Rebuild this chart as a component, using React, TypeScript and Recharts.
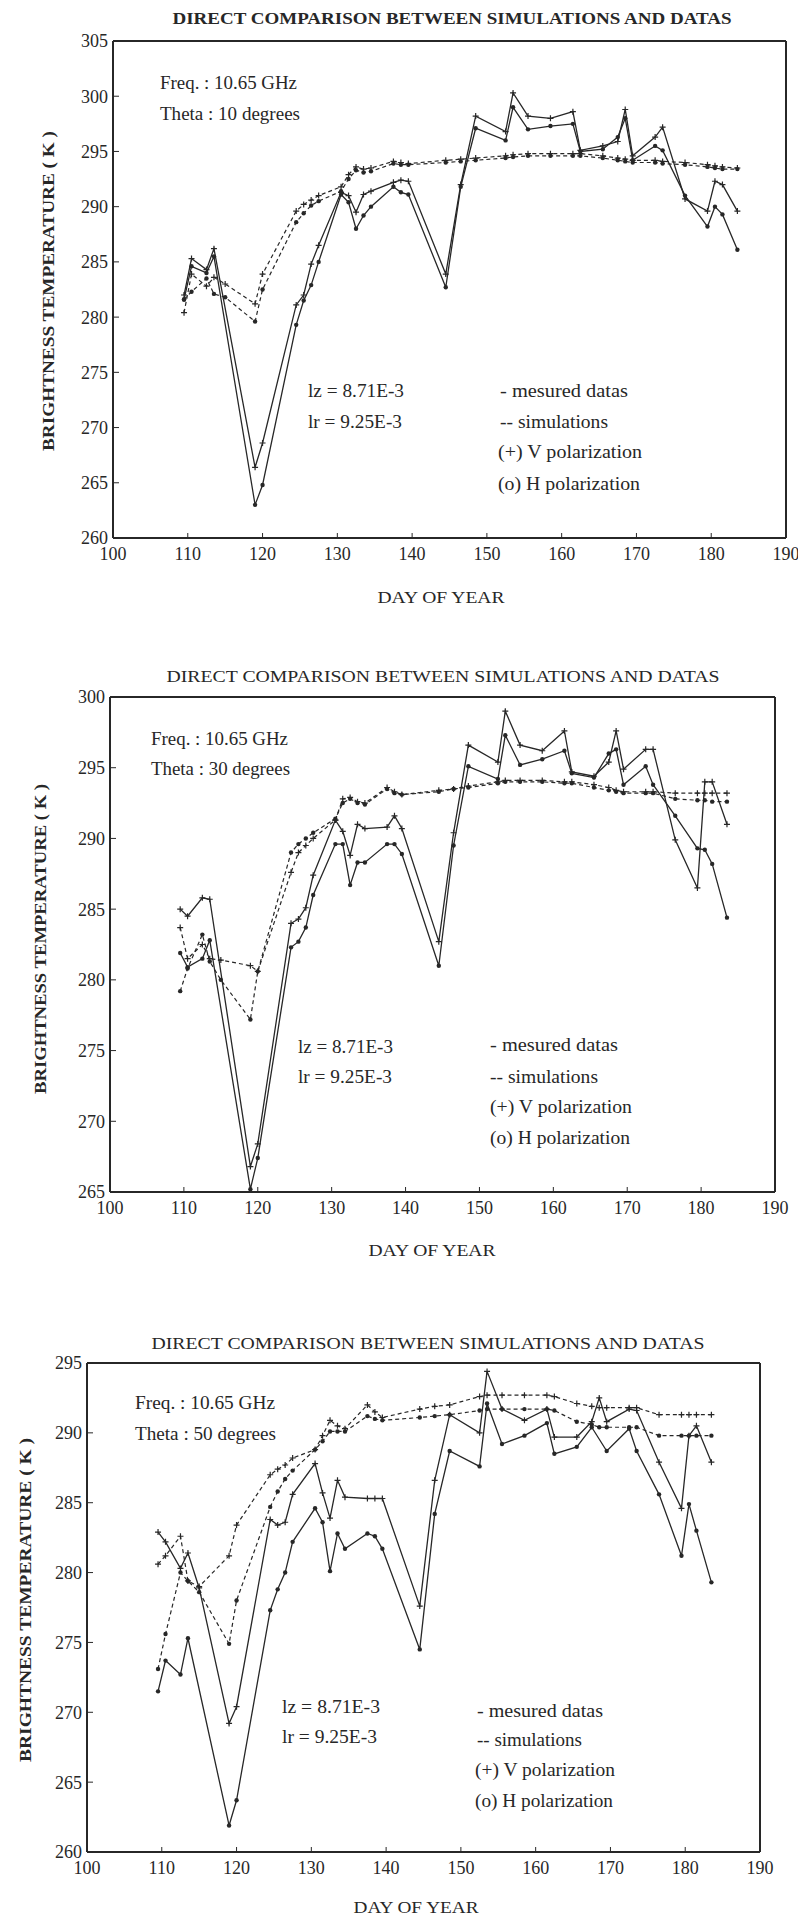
import React from "react";
import { LineChart, Line, XAxis, YAxis } from "recharts";

// measurement days (shared by the three panels)
const DAYS = [109.5, 110.5, 112.5, 113.5, 115, 119, 120, 124.5, 125.5, 126.5, 127.5, 130.5, 131.5, 132.5, 133.5, 134.5, 137.5, 138.5, 139.5, 144.5, 146.5, 148.5, 152.5, 153.5, 155.5, 158.5, 161.5, 162.5, 165.5, 167.5, 168.5, 169.5, 172.5, 173.5, 176.5, 179.5, 180.5, 181.5, 183.5];
const X_TICKS = [100, 110, 120, 130, 140, 150, 160, 170, 180, 190];

// theta = 10 degrees
const V10_MEAS = [282.0, 285.3, 284.3, 286.2, null, 266.4, 268.6, 281.1, 282.0, 284.8, 286.5, 291.3, 291.0, 289.5, 291.1, 291.4, 292.2, 292.4, 292.3, 283.9, 292.0, 298.2, 296.8, 300.3, 298.2, 298.0, 298.6, 295.1, 295.5, 295.9, 298.8, 294.6, 296.3, 297.2, 290.7, 289.6, 292.3, 292.0, 289.6];
const H10_MEAS = [281.6, 284.6, 284.0, 285.5, null, 263.0, 264.8, 279.3, 281.5, 282.9, 285.0, 291.1, 290.4, 288.0, 289.2, 290.0, 291.8, 291.3, 291.1, 282.7, 291.8, 297.1, 296.0, 299.0, 297.0, 297.3, 297.5, 295.0, 295.2, 296.3, 298.0, 294.2, 295.5, 295.1, 291.0, 288.2, 290.0, 289.3, 286.1];
const V10_SIM = [280.4, 283.9, 282.8, 283.6, 283.0, 281.2, 283.9, 289.6, 290.2, 290.6, 291.0, 291.8, 292.9, 293.6, 293.4, 293.5, 294.1, 294.0, 293.9, 294.2, 294.3, 294.4, 294.6, 294.7, 294.8, 294.8, 294.8, 294.8, 294.6, 294.4, 294.3, 294.2, 294.2, 294.1, 294.0, 293.8, 293.7, 293.6, 293.5];
const H10_SIM = [281.6, 282.3, 283.5, 282.1, 281.8, 279.6, 282.5, 288.6, 289.4, 290.1, 290.5, 291.4, 292.5, 293.3, 293.1, 293.2, 293.9, 293.8, 293.8, 294.0, 294.1, 294.2, 294.4, 294.5, 294.6, 294.6, 294.6, 294.6, 294.4, 294.2, 294.1, 294.0, 294.0, 293.9, 293.8, 293.6, 293.5, 293.4, 293.4];
const Y_TICKS_10 = [260, 265, 270, 275, 280, 285, 290, 295, 300, 305];

// theta = 30 degrees
const V30_MEAS = [285.0, 284.5, 285.8, 285.7, null, 266.8, 268.4, 284.0, 284.3, 285.1, 287.4, 291.3, 290.5, 288.8, 291.0, 290.7, 290.8, 291.6, 290.7, 282.7, 290.4, 296.6, 295.4, 299.0, 296.6, 296.2, 297.6, 294.7, 294.4, 295.4, 297.6, 294.9, 296.3, 296.3, 289.9, 286.5, 294.0, 294.0, 291.0];
const H30_MEAS = [281.9, 280.9, 281.5, 282.8, null, 265.2, 267.4, 282.3, 282.7, 283.7, 286.0, 289.6, 289.6, 286.7, 288.3, 288.3, 289.6, 289.6, 288.9, 281.0, 289.5, 295.1, 294.2, 297.3, 295.2, 295.6, 296.2, 294.6, 294.3, 296.0, 296.3, 293.8, 295.1, 293.8, 291.6, 289.3, 289.2, 288.2, 284.4];
const V30_SIM = [283.7, 281.5, 282.5, 281.5, 281.4, 281.0, 280.6, 287.6, 289.0, 289.5, 290.0, 291.3, 292.8, 292.9, 292.6, 292.5, 293.6, 293.3, 293.1, 293.4, 293.5, 293.7, 294.0, 294.1, 294.1, 294.1, 294.0, 294.0, 293.8, 293.6, 293.4, 293.3, 293.3, 293.3, 293.2, 293.2, 293.2, 293.2, 293.2];
const H30_SIM = [279.2, 280.8, 283.2, 281.3, 280.0, 277.2, 280.6, 289.0, 289.6, 290.0, 290.4, 291.4, 292.5, 292.8, 292.5, 292.4, 293.5, 293.2, 293.1, 293.3, 293.5, 293.6, 293.9, 294.0, 294.0, 294.0, 293.9, 293.9, 293.6, 293.4, 293.3, 293.2, 293.2, 293.2, 292.8, 292.7, 292.7, 292.6, 292.6];
const Y_TICKS_30 = [265, 270, 275, 280, 285, 290, 295, 300];

// theta = 50 degrees
const V50_MEAS = [282.9, 282.2, 280.3, 281.4, 278.9, 269.2, 270.4, 283.8, 283.4, 283.6, 285.6, 287.8, 285.7, 283.9, 286.6, 285.4, 285.3, 285.3, 285.3, 277.6, 286.6, 291.3, 290.0, 294.4, 291.7, 290.9, 291.7, 289.7, 289.7, 290.8, 292.5, 290.8, 291.7, 291.6, 287.9, 284.6, 289.8, 290.5, 287.9];
const H50_MEAS = [271.5, 273.7, 272.7, 275.3, null, 261.9, 263.7, 277.3, 278.8, 280.0, 282.2, 284.6, 283.6, 280.1, 282.8, 281.7, 282.8, 282.6, 281.7, 274.5, 284.2, 288.7, 287.6, 292.1, 289.2, 289.8, 290.7, 288.5, 289.0, 290.4, null, 288.7, 290.3, 288.7, 285.6, 281.2, 284.9, 283.0, 279.3];
const V50_SIM = [280.6, 281.2, 282.6, 279.4, 279.0, 281.2, 283.4, 287.0, 287.4, 287.7, 288.2, 288.8, 289.8, 290.9, 290.5, 290.3, 292.0, 291.5, 291.1, 291.7, 291.9, 292.0, 292.6, 292.7, 292.7, 292.7, 292.7, 292.6, 292.1, 291.9, 291.8, 291.8, 291.8, 291.8, 291.3, 291.3, 291.3, 291.3, 291.3];
const H50_SIM = [273.1, 275.6, 280.0, 279.4, 278.6, 274.9, 278.0, 284.7, 285.8, 286.7, 287.3, 288.8, 289.4, 290.1, 290.1, 290.1, 291.2, 291.0, 290.9, 291.1, 291.2, 291.3, 291.6, 291.7, 291.7, 291.7, 291.7, 291.6, 290.8, 290.6, 290.4, 290.4, 290.4, 290.4, 289.8, 289.8, 289.8, 289.8, 289.8];
const Y_TICKS_50 = [260, 265, 270, 275, 280, 285, 290, 295];

const INK = "#272727";
const FONT = "'Liberation Serif', 'Times New Roman', serif";

const rows = (vm: any[], hm: any[], vs: any[], hs: any[]) =>
  DAYS.map((day, i) => ({ day, vm: vm[i], hm: hm[i], vs: vs[i], hs: hs[i] }));

const PlusDot = (p: any) => {
  const k = `${p.dataKey}-p-${p.index}`;
  if (p.cx == null || p.cy == null || Number.isNaN(p.cy) || p.value == null) return <g key={k} />;
  const { cx, cy } = p;
  return <path key={k} d={`M${cx - 3},${cy}H${cx + 3}M${cx},${cy - 3}V${cy + 3}`} stroke={INK} strokeWidth={1.2} fill="none" />;
};

const RingDot = (p: any) => {
  const k = `${p.dataKey}-o-${p.index}`;
  if (p.cx == null || p.cy == null || Number.isNaN(p.cy) || p.value == null) return <g key={k} />;
  return <circle key={k} cx={p.cx} cy={p.cy} r={2.2} fill={INK} stroke="none" />;
};

type PanelProps = {
  top: number;
  height: number;
  margin: { top: number; right: number; bottom: number; left: number };
  domain: [number, number];
  yTicks: number[];
  data: any[];
};

function Panel({ top, height, margin, domain, yTicks, data }: PanelProps) {
  const tickText = { fill: INK, fontSize: 18, fontFamily: FONT };
  const frame = { stroke: INK, strokeWidth: 2 };
  return (
    <div style={{ position: "absolute", left: 0, top }}>
      <LineChart width={798} height={height} data={data} margin={margin}>
        <XAxis dataKey="day" type="number" domain={[100, 190]} ticks={X_TICKS} interval={0} allowDataOverflow
          height={1} tick={tickText} tickSize={-5} tickMargin={14} tickLine={{ stroke: INK }} axisLine={frame} />
        <XAxis xAxisId="top" orientation="top" dataKey="day" type="number" domain={[100, 190]} ticks={X_TICKS} interval={0}
          allowDataOverflow height={1} tick={false} tickSize={-5} tickLine={{ stroke: INK }} axisLine={frame} />
        <YAxis type="number" domain={domain} ticks={yTicks} interval={0} allowDataOverflow width={1}
          tick={tickText} tickSize={-6} tickMargin={11} tickLine={{ stroke: INK }} axisLine={frame} />
        <YAxis yAxisId="right" orientation="right" type="number" domain={domain} ticks={yTicks} interval={0} allowDataOverflow
          width={1} tick={false} tickSize={-6} tickLine={{ stroke: INK }} axisLine={frame} />
        <Line dataKey="vs" stroke={INK} strokeWidth={1.2} strokeDasharray="4 3" dot={PlusDot} activeDot={false} connectNulls isAnimationActive={false} />
        <Line dataKey="hs" stroke={INK} strokeWidth={1.2} strokeDasharray="4 3" dot={RingDot} activeDot={false} connectNulls isAnimationActive={false} />
        <Line dataKey="vm" stroke={INK} strokeWidth={1.3} dot={PlusDot} activeDot={false} connectNulls isAnimationActive={false} />
        <Line dataKey="hm" stroke={INK} strokeWidth={1.3} dot={RingDot} activeDot={false} connectNulls isAnimationActive={false} />
      </LineChart>
    </div>
  );
}

type Label = { t: string; x: number; y: number; w: number; size?: number; bold?: boolean; mid?: boolean; rot?: boolean };

const TITLE = "DIRECT COMPARISON BETWEEN SIMULATIONS AND DATAS";
const YLABEL = "BRIGHTNESS TEMPERATURE ( K )";

const labels: Label[] = [
  // panel 1
  { t: TITLE, x: 452, y: 24, w: 559, size: 17, bold: true, mid: true },
  { t: "Freq. : 10.65 GHz", x: 160, y: 89, w: 137 },
  { t: "Theta : 10 degrees", x: 160, y: 120, w: 140 },
  { t: "lz = 8.71E-3", x: 308, y: 397, w: 96 },
  { t: "lr = 9.25E-3", x: 308, y: 428, w: 94 },
  { t: "-  mesured datas", x: 500, y: 397, w: 128 },
  { t: "-- simulations", x: 500, y: 428, w: 108 },
  { t: "(+) V polarization", x: 498, y: 458, w: 144 },
  { t: "(o) H polarization", x: 498, y: 490, w: 142 },
  { t: YLABEL, x: 48, y: 291, w: 320, size: 16, bold: true, mid: true, rot: true },
  { t: "DAY OF YEAR", x: 441, y: 603, w: 127, size: 16, mid: true },
  // panel 2
  { t: TITLE, x: 443, y: 682, w: 553, size: 17, mid: true },
  { t: "Freq. : 10.65 GHz", x: 151, y: 745, w: 137 },
  { t: "Theta : 30 degrees", x: 151, y: 775, w: 139 },
  { t: "lz = 8.71E-3", x: 298, y: 1053, w: 95 },
  { t: "lr = 9.25E-3", x: 298, y: 1083, w: 94 },
  { t: "-  mesured datas", x: 490, y: 1051, w: 128 },
  { t: "-- simulations", x: 490, y: 1083, w: 108 },
  { t: "(+) V polarization", x: 490, y: 1113, w: 142 },
  { t: "(o) H polarization", x: 490, y: 1144, w: 140 },
  { t: YLABEL, x: 40, y: 939, w: 310, size: 16, bold: true, mid: true, rot: true },
  { t: "DAY OF YEAR", x: 432, y: 1256, w: 127, size: 16, mid: true },
  // panel 3
  { t: TITLE, x: 428, y: 1349, w: 553, size: 17, mid: true },
  { t: "Freq. : 10.65 GHz", x: 135, y: 1409, w: 140 },
  { t: "Theta : 50 degrees", x: 135, y: 1440, w: 141 },
  { t: "lz = 8.71E-3", x: 282, y: 1713, w: 98 },
  { t: "lr = 9.25E-3", x: 282, y: 1743, w: 95 },
  { t: "-  mesured datas", x: 477, y: 1717, w: 126 },
  { t: "-- simulations", x: 477, y: 1746, w: 105 },
  { t: "(+) V polarization", x: 475, y: 1776, w: 140 },
  { t: "(o) H polarization", x: 475, y: 1807, w: 138 },
  { t: YLABEL, x: 25, y: 1600, w: 324, size: 16, bold: true, mid: true, rot: true },
  { t: "DAY OF YEAR", x: 416, y: 1913, w: 125, size: 16, mid: true },
];

export default function App() {
  return (
    <div style={{ position: "absolute", left: 0, top: 0, width: 798, height: 1918, background: "#fff" }}>
      <Panel top={0} height={620} margin={{ top: 40, right: 11, bottom: 81, left: 112 }} domain={[260, 305]} yTicks={Y_TICKS_10}
        data={rows(V10_MEAS, H10_MEAS, V10_SIM, H10_SIM)} />
      <Panel top={640} height={640} margin={{ top: 56, right: 22, bottom: 87, left: 109 }} domain={[265, 300]} yTicks={Y_TICKS_30}
        data={rows(V30_MEAS, H30_MEAS, V30_SIM, H30_SIM)} />
      <Panel top={1290} height={628} margin={{ top: 72, right: 37, bottom: 65, left: 86 }} domain={[260, 295]} yTicks={Y_TICKS_50}
        data={rows(V50_MEAS, H50_MEAS, V50_SIM, H50_SIM)} />
      <svg width={798} height={1918} style={{ position: "absolute", left: 0, top: 0, pointerEvents: "none" }}>
        {labels.map((l, i) => (
          <text key={i} x={l.x} y={l.y} fill={INK} fontFamily={FONT} fontSize={l.size ?? 18}
            fontWeight={l.bold ? "bold" : "normal"} textAnchor={l.mid ? "middle" : "start"}
            dominantBaseline={l.rot ? "central" : "auto"}
            textLength={l.w} lengthAdjust="spacingAndGlyphs"
            transform={l.rot ? `rotate(-90 ${l.x} ${l.y})` : undefined}>
            {l.t}
          </text>
        ))}
      </svg>
    </div>
  );
}
